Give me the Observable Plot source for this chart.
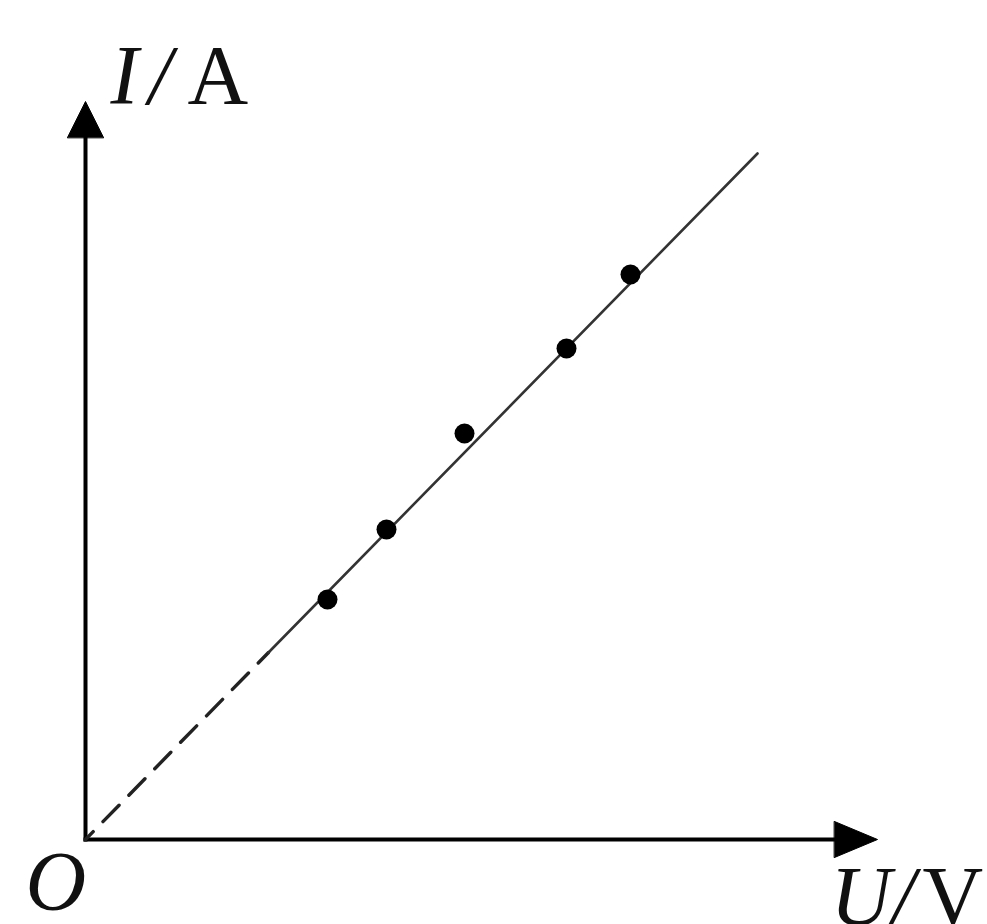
<!DOCTYPE html>
<html>
<head>
<meta charset="utf-8">
<script src="https://cdn.jsdelivr.net/npm/d3@7"></script>
<script src="https://cdn.jsdelivr.net/npm/@observablehq/plot@0.6"></script>
<style>
  html, body { margin: 0; padding: 0; background: #fff; }
  #chart svg { display: block; }
  #chart svg text { font-family: "Liberation Serif", "Times New Roman", "DejaVu Serif", serif; }
</style>
</head>
<body>
<div id="chart"></div>
<script>
// Measured points (U, I) in arbitrary units
const uValues = [2.42, 3.01, 3.79, 4.81, 5.45];
const iValues = [2.40, 3.10, 4.06, 4.91, 5.65];
// Fitted straight line through the origin: dashed part (extrapolated) and solid part
const fitDashedU = [0, 1.83];
const fitDashedI = [0, 1.87];
const fitSolidU = [1.83, 6.72];
const fitSolidI = [1.87, 6.86];
// Axis extents (arrow tips)
const axisMaxU = 7.92;
const axisMaxI = 7.38;
// Axis labels
const labelIVar = "I", labelIUnit = "A";
const labelUVar = "U", labelUUnit = "V";
const originLabel = "O";

const points = uValues.map((u, k) => ({u, i: iValues[k]}));
const dashed = fitDashedU.map((u, k) => ({u, i: fitDashedI[k]}));
const solid = fitSolidU.map((u, k) => ({u, i: fitSolidI[k]}));

// arrowhead geometry (data units, 1 unit = 100px on both axes)
const headLen = 0.36, headHalf = 0.18;
const yHead = [
  {u: -headHalf, i: axisMaxI - headLen},
  {u: 0, i: axisMaxI},
  {u: headHalf, i: axisMaxI - headLen}
];
const xHead = [
  {u: axisMaxU - 0.43, i: headHalf},
  {u: axisMaxU, i: 0},
  {u: axisMaxU - 0.43, i: -headHalf}
];

const serif = "Liberation Serif, Times New Roman, DejaVu Serif, serif";
const fs = 84;

const chart = Plot.plot({
  width: 987,
  height: 924,
  margin: 0,
  style: {background: "#fff", fontFamily: serif},
  x: {domain: [-0.85, 9.02], axis: null},
  y: {domain: [-0.85, 8.39], axis: null},
  marks: [
    // axes
    Plot.line([{u: 0, i: 0}, {u: 0, i: axisMaxI - 0.2}], {x: "u", y: "i", stroke: "#000", strokeWidth: 4, strokeLinecap: "square"}),
    Plot.line([{u: 0, i: 0}, {u: axisMaxU - 0.25, i: 0}], {x: "u", y: "i", stroke: "#000", strokeWidth: 4, strokeLinecap: "square"}),
    Plot.line(yHead, {x: "u", y: "i", fill: "#000", stroke: "#000", strokeWidth: 1, curve: "linear-closed"}),
    Plot.line(xHead, {x: "u", y: "i", fill: "#000", stroke: "#000", strokeWidth: 1, curve: "linear-closed"}),
    // fitted line
    Plot.line(dashed, {x: "u", y: "i", stroke: "#222", strokeWidth: 3.4, strokeDasharray: "23,14", strokeDashoffset: 12}),
    Plot.line(solid, {x: "u", y: "i", stroke: "#333", strokeWidth: 2.6}),
    // points
    Plot.dot(points, {x: "u", y: "i", r: 10, fill: "#000", stroke: "none"}),
    // labels
    Plot.text([labelIVar], {x: 0, y: axisMaxI, text: d => d, dx: 25, dy: 2, textAnchor: "start", lineAnchor: "bottom", fontFamily: serif, fontStyle: "italic", fontSize: fs, fill: "#111"}),
    Plot.text(["/"], {x: 0, y: axisMaxI, dx: 63, dy: 2, text: d => d, textAnchor: "start", lineAnchor: "bottom", fontFamily: serif, fontStyle: "italic", fontSize: fs, fill: "#111"}),
    Plot.text([labelIUnit], {x: 0, y: axisMaxI, dx: 102, dy: 2, text: d => d, textAnchor: "start", lineAnchor: "bottom", fontFamily: serif, fontSize: fs, fill: "#111"}),
    Plot.text([originLabel], {x: 0, y: 0, dx: -60, dy: 70, text: d => d, textAnchor: "start", lineAnchor: "bottom", fontFamily: serif, fontStyle: "italic", fontSize: fs, fill: "#111"}),
    Plot.text([labelUVar], {x: axisMaxU, y: 0, dx: -47, dy: 85, text: d => d, textAnchor: "start", lineAnchor: "bottom", fontFamily: serif, fontStyle: "italic", fontSize: fs, fill: "#111"}),
    Plot.text(["/"], {x: axisMaxU, y: 0, dx: 14, dy: 85, text: d => d, textAnchor: "start", lineAnchor: "bottom", fontFamily: serif, fontStyle: "italic", fontSize: fs, fill: "#111"}),
    Plot.text([labelUUnit], {x: axisMaxU, y: 0, dx: 45, dy: 85, text: d => d, textAnchor: "start", lineAnchor: "bottom", fontFamily: serif, fontSize: fs, fill: "#111"})
  ]
});
document.getElementById("chart").appendChild(chart);
</script>
</body>
</html>
